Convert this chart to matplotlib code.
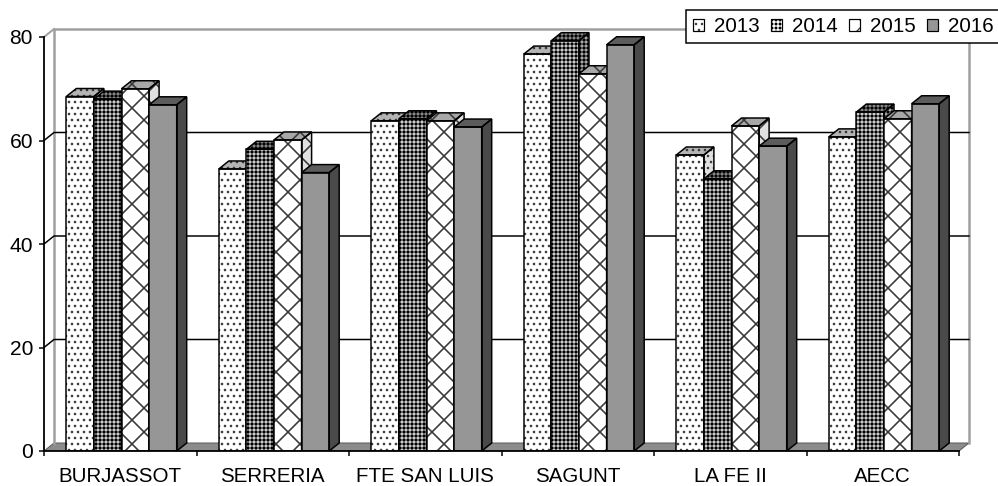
import numpy as np
import matplotlib
matplotlib.use("Agg")
import matplotlib.pyplot as plt
from matplotlib.patches import Polygon, Patch

plt.rcParams['font.family'] = ['Liberation Sans', 'DejaVu Sans']
plt.rcParams['hatch.linewidth'] = 1.3

categories = ['BURJASSOT', 'SERRERIA', 'FTE SAN LUIS', 'SAGUNT', 'LA FE II', 'AECC']
years = ['2013', '2014', '2015', '2016']
v2013 = [68.5, 54.5, 63.8, 76.7, 57.2, 60.7]
v2014 = [68.0, 58.3, 64.2, 79.3, 52.6, 65.5]
v2015 = [70.0, 60.1, 63.8, 72.9, 62.8, 64.2]
v2016 = [66.9, 53.8, 62.6, 78.5, 58.9, 67.1]
values = [v2013, v2014, v2015, v2016]

# (facecolor, hatchcolor) for front / top / side, plus hatch and its line width
styles = [
    dict(hatch='..', hlw=1.4, front=('#ffffff', '#404040'), top=('#b4b4b4', '#3a3a3a'), side=('#e0e0e0', '#404040')),
    dict(hatch='+++', hlw=0.8, front=('#000000', '#ffffff'), top=('#000000', '#a8a8a8'), side=('#000000', '#d0d0d0')),
    dict(hatch='x', hlw=1.6, front=('#ffffff', '#383838'), top=('#a8a8a8', '#383838'), side=('#e0e0e0', '#383838')),
    dict(hatch=None, hlw=1.0, front=('#969696', None), top=('#5c5c5c', None), side=('#4a4a4a', None)),
]

DPI = 72
fig = plt.figure(figsize=(998 / DPI, 486 / DPI), dpi=DPI)

# pixel geometry of the plot
px_cat = 152.5
px_val = 5.175
x0, y0 = 44, 451
xmax, ymax = 6.12, 82.5
ax = fig.add_axes([x0 / 998, (486 - y0) / 486, xmax * px_cat / 998, ymax * px_val / 486])
ax.set_xlim(0, xmax)
ax.set_ylim(0, ymax)
ax.patch.set_visible(False)

dx = 10 / px_cat
dy = 8 / px_val
off = 22.3 / px_cat
w = 27.6 / px_cat
n = len(categories)


def set_hlw(p, lw):
    if hasattr(p, 'set_hatch_linewidth'):
        p.set_hatch_linewidth(lw)


# floor and back wall
ax.add_patch(Polygon([(0, 0), (n, 0), (n + dx, dy), (dx, dy)], facecolor='#8c8c8c',
                     edgecolor='#5a5a5a', lw=1, zorder=1))
ax.plot([dx, dx, n + dx, n + dx], [dy, 80 + dy, 80 + dy, dy], color='#a0a0a0', lw=2.5, zorder=1.5,
        solid_joinstyle='miter')
ax.plot([0, dx], [80, 80 + dy], color='#a0a0a0', lw=2, zorder=1.5)
for g in [20, 40, 60]:
    ax.plot([0, dx, n + dx], [g, g + dy, g + dy], color='black', lw=1.5, zorder=2)


def face(xy, fc, hc, hatch, hlw, z):
    if hatch:
        p = Polygon(xy, closed=True, facecolor=fc, edgecolor=hc, hatch=hatch, lw=0, zorder=z)
        set_hlw(p, hlw)
    else:
        p = Polygon(xy, closed=True, facecolor=fc, edgecolor='none', zorder=z)
    ax.add_patch(p)
    ax.add_patch(Polygon(xy, closed=True, fill=False, edgecolor='black', lw=1.5, zorder=z + 0.5,
                         joinstyle='miter'))


idx = np.arange(n)
for j, (vals, st) in enumerate(zip(values, styles)):
    z = 3 + j
    xs = idx + off + j * w
    fc, hc = st['front']
    if st['hatch']:
        bars = ax.bar(xs, vals, width=w, align='edge', facecolor=fc, edgecolor=hc, hatch=st['hatch'],
                      lw=0, zorder=z)
        for b in bars:
            set_hlw(b, st['hlw'])
    else:
        ax.bar(xs, vals, width=w, align='edge', facecolor=fc, lw=0, zorder=z)
    ax.bar(xs, vals, width=w, align='edge', fill=False, edgecolor='black', lw=1.5, zorder=z + 0.5)
    for x, v in zip(xs, vals):
        top = [(x, v), (x + w, v), (x + w + dx, v + dy), (x + dx, v + dy)]
        side = [(x + w, 0), (x + w + dx, dy), (x + w + dx, v + dy), (x + w, v)]
        face(top, *st['top'], st['hatch'], st['hlw'], z)
        face(side, *st['side'], st['hatch'], st['hlw'], z)

# axes
for s in ['top', 'right']:
    ax.spines[s].set_visible(False)
ax.spines['left'].set_bounds(0, 80)
ax.spines['bottom'].set_bounds(0, n)
for s in ['left', 'bottom']:
    ax.spines[s].set_linewidth(1.8)
    ax.spines[s].set_zorder(20)

ax.set_yticks([0, 20, 40, 60, 80])
ax.tick_params(axis='y', length=5, width=1.5, pad=6, labelsize=21)
ax.set_xticks(range(n + 1))
ax.set_xticklabels([])
ax.set_xticks(idx + 0.5, minor=True)
ax.set_xticklabels(categories, minor=True)
ax.tick_params(axis='x', which='major', length=5, width=1.5)
ax.tick_params(axis='x', which='minor', length=0, pad=16, labelsize=20.5)

# legend
handles = []
for st in styles:
    fc, hc = st['front']
    if st['hatch']:
        fill = Patch(facecolor=fc, edgecolor=hc, hatch=st['hatch'], lw=0)
        set_hlw(fill, st['hlw'])
    else:
        fill = Patch(facecolor=fc, lw=0)
    handles.append((fill, Patch(fill=False, edgecolor='black', lw=1.2)))
leg = fig.legend(handles, years, loc='upper left', bbox_to_anchor=(686 / 998, 1 - 10 / 486),
                 ncol=4, frameon=True, fancybox=False, edgecolor='black', framealpha=1,
                 fontsize=20.5, handlelength=0.54, handleheight=0.54, handletextpad=0.49,
                 columnspacing=0.54, borderpad=0.34, borderaxespad=0)
leg.get_frame().set_linewidth(1.5)

fig.savefig('out.png', dpi=DPI)
